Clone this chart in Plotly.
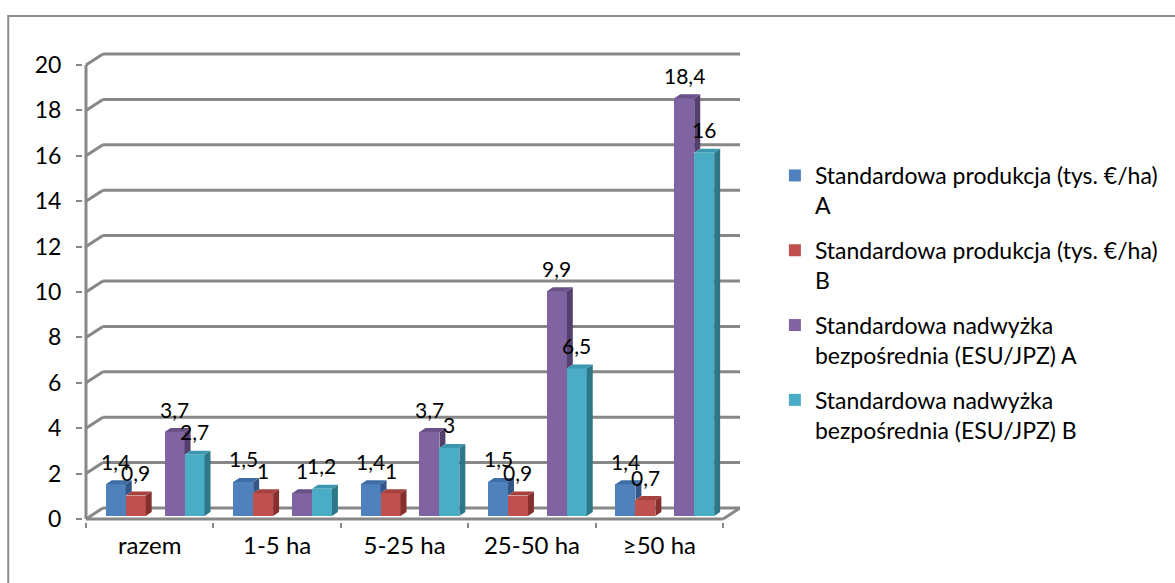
import plotly.graph_objects as go

# ---- data -----------------------------------------------------------------
categories = ["razem", "1-5 ha", "5-25 ha", "25-50 ha", "≥50 ha"]
prod_a = [1.4, 1.5, 1.4, 1.5, 1.4]
prod_b = [0.9, 1.0, 1.0, 0.9, 0.7]
nadw_a = [3.7, 1.0, 3.7, 9.9, 18.4]
nadw_b = [2.7, 1.2, 3.0, 6.5, 16.0]
series_names = [
    "Standardowa produkcja (tys. €/ha)<br>A",
    "Standardowa produkcja (tys. €/ha)<br>B",
    "Standardowa nadwyżka<br>bezpośrednia (ESU/JPZ) A",
    "Standardowa nadwyżka<br>bezpośrednia (ESU/JPZ) B",
]
y_ticks = [0, 2, 4, 6, 8, 10, 12, 14, 16, 18, 20]

series = [prod_a, prod_b, nadw_a, nadw_b]

# ---- geometry of the pseudo-3D frame (pixels -> axis units) ---------------
W, H = 1175, 583
FRONT_L, FRONT_R, FRONT_B = 86, 725, 519
PX_CAT = (FRONT_R - FRONT_L) / len(categories)
PX_VAL = 22.7
WALL_DX = 17 / PX_CAT          # depth of the back wall
WALL_DY = 11 / PX_VAL
PAD_X = 3 / PX_CAT
PAD_Y = 3 / PX_VAL
Y_TOP = 20 + WALL_DY + PAD_Y
BAR_W = 20 / PX_CAT
BAR_POS = [p / PX_CAT for p in (-34, -14, 25, 45)]
FACE_DX = 6 / PX_CAT          # bar depth
FACE_DY = 4 / PX_VAL
LIFT = 3 / PX_VAL              # bars stand slightly behind the front edge

plot_l = FRONT_L - 3
plot_r = FRONT_R + 17
plot_b = FRONT_B + 3
plot_t = plot_b - Y_TOP * PX_VAL - PAD_Y * PX_VAL

front_col = ["#4F81BD", "#C0504D", "#8064A2", "#4BACC6"]
top_col = ["#3F6DA6", "#A6413E", "#6A5188", "#3A97AF"]
side_col = ["#325787", "#85302D", "#54406D", "#2E7789"]
GRID = "#878787"
FONT = "Lato"


def fmt(v):
    return f"{v:g}".replace(".", ",")


fig = go.Figure()

# front faces (legend entries)
for s, vals in enumerate(series):
    fig.add_trace(go.Bar(
        x=list(range(len(categories))), y=vals, base=LIFT,
        offset=BAR_POS[s] - BAR_W / 2, width=BAR_W,
        marker=dict(color=front_col[s], line=dict(width=0)),
        name=series_names[s], legendgroup=f"g{s}", hoverinfo="skip",
    ))

# side and top faces, drawn left to right so neighbours hide each other
for c in range(len(categories)):
    for s, vals in enumerate(series):
        v = vals[c]
        xl = c + BAR_POS[s] - BAR_W / 2
        xr = xl + BAR_W
        y0 = LIFT
        y1 = LIFT + v
        # neighbouring bar touching on the right?
        nb = None
        if s in (0, 2):
            nb = LIFT + series[s + 1][c]
        side_bottom = y0 if nb is None else max(y0, nb)
        if y1 > side_bottom:
            fig.add_trace(go.Scatter(
                x=[xr, xr, xr + FACE_DX, xr + FACE_DX, xr],
                y=[side_bottom, y1, y1 + FACE_DY, side_bottom + FACE_DY, side_bottom],
                mode="lines", fill="toself", fillcolor=side_col[s],
                line=dict(width=0), showlegend=False, hoverinfo="skip"))
        if nb is not None and nb > y1:
            tx = [xl, xr, xr, xl + FACE_DX, xl]
            ty = [y1, y1, y1 + FACE_DY, y1 + FACE_DY, y1]
        else:
            tx = [xl, xr, xr + FACE_DX, xl + FACE_DX, xl]
            ty = [y1, y1, y1 + FACE_DY, y1 + FACE_DY, y1]
        fig.add_trace(go.Scatter(
            x=tx, y=ty, mode="lines", fill="toself", fillcolor=top_col[s],
            line=dict(width=0), showlegend=False, hoverinfo="skip"))

# value labels
for s, vals in enumerate(series):
    for c, v in enumerate(vals):
        fig.add_annotation(
            x=c + BAR_POS[s], y=LIFT + v, yshift=23, text=fmt(v),
            showarrow=False, font=dict(family=FONT, size=21, color="#000000"),
            xanchor="center", yanchor="middle")

# walls, floor and front axis
x_front_l = -0.5
x_front_r = len(categories) - 0.5
shapes = []
for t in y_ticks:
    shapes.append(dict(type="line", xref="x", yref="y", layer="below",
                       x0=x_front_l + WALL_DX, x1=x_front_r + WALL_DX,
                       y0=t + WALL_DY, y1=t + WALL_DY,
                       line=dict(color=GRID, width=3)))
    shapes.append(dict(type="line", xref="x", yref="y", layer="below",
                       x0=x_front_l, x1=x_front_l + WALL_DX,
                       y0=t, y1=t + WALL_DY,
                       line=dict(color=GRID, width=3)))
shapes.append(dict(type="line", xref="x", yref="y", layer="below",
                   x0=x_front_l, x1=x_front_l, y0=0, y1=y_ticks[-1],
                   line=dict(color=GRID, width=3)))
shapes.append(dict(type="line", xref="x", yref="y", layer="below",
                   x0=x_front_l, x1=x_front_r, y0=0, y1=0,
                   line=dict(color=GRID, width=3)))
shapes.append(dict(type="line", xref="x", yref="y", layer="below",
                   x0=x_front_r, x1=x_front_r + WALL_DX, y0=0, y1=WALL_DY,
                   line=dict(color=GRID, width=3)))

# outer chart border
pw = plot_r - plot_l
ph = plot_b - plot_t
shapes.append(dict(type="rect", xref="paper", yref="paper", layer="below",
                   x0=(8 - plot_l) / pw, x1=(W + 20 - plot_l) / pw,
                   y0=(plot_b - (H + 20)) / ph, y1=(plot_b - 16) / ph,
                   line=dict(color="#8C8C8C", width=2)))

fig.update_layout(
    width=W, height=H,
    margin=dict(l=plot_l, r=W - plot_r, t=plot_t, b=H - plot_b, pad=0),
    paper_bgcolor="white", plot_bgcolor="rgba(0,0,0,0)",
    barmode="overlay", bargap=0,
    font=dict(family=FONT, size=23, color="#000000"),
    shapes=shapes,
    showlegend=True,
    legend=dict(
        x=(777 - plot_l) / pw, y=(plot_b - 154) / ph,
        xanchor="left", yanchor="top", valign="top",
        font=dict(family=FONT, size=23, color="#000000"),
        tracegroupgap=12, bgcolor="rgba(0,0,0,0)",
    ),
    xaxis=dict(
        range=[x_front_l - PAD_X, x_front_r + WALL_DX],
        tickmode="array", tickvals=list(range(len(categories))),
        ticktext=categories, ticks="", showgrid=False, zeroline=False,
        showline=False, ticklabelstandoff=7,
        tickfont=dict(family=FONT, size=24),
        minor=dict(tickmode="array",
                   tickvals=[i - 0.5 for i in range(len(categories) + 1)],
                   ticks="outside", ticklen=5, tickwidth=2, tickcolor=GRID,
                   showgrid=False),
        fixedrange=True,
    ),
    yaxis=dict(
        range=[-PAD_Y, Y_TOP],
        tickmode="array", tickvals=y_ticks, ticktext=[str(t) for t in y_ticks],
        ticks="outside", ticklen=6, tickwidth=2, tickcolor=GRID,
        showgrid=False, zeroline=False, showline=False,
        ticklabelstandoff=10, tickfont=dict(family=FONT, size=23),
        fixedrange=True,
    ),
)

fig.write_html("out.html")
